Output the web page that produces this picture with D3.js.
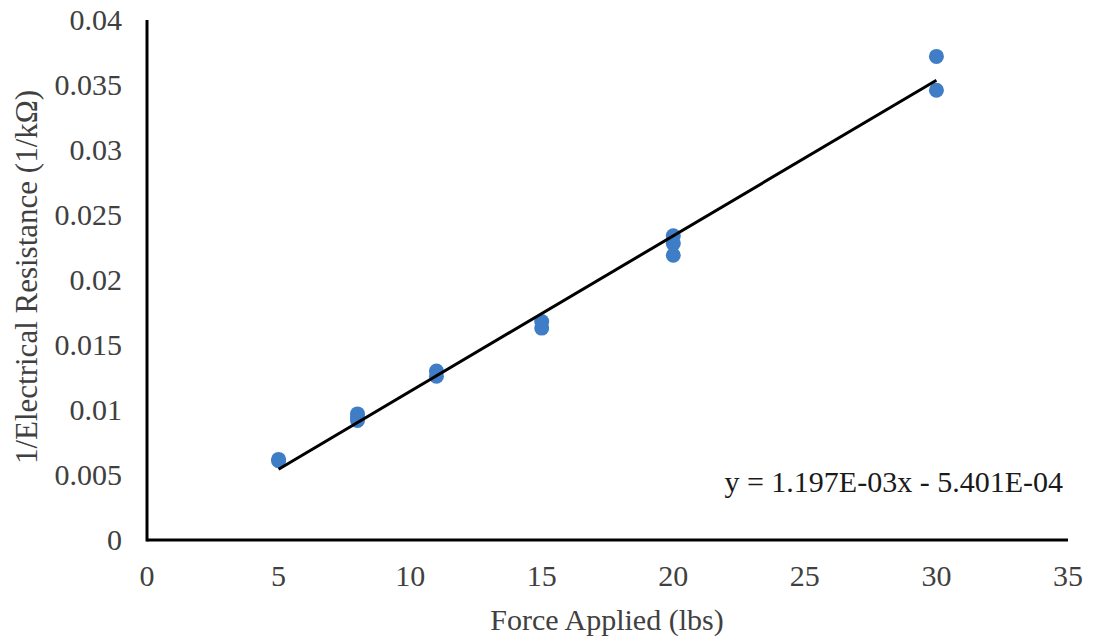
<!DOCTYPE html>
<html><head><meta charset="utf-8">
<script src="https://cdn.jsdelivr.net/npm/d3@7"></script>
<style>body{margin:0;background:#fff}</style>
</head><body><svg id="c" width="1093" height="640"></svg>
<script>
const forceX = [5,5, 8,8,8, 11,11, 15,15, 20,20,20, 30,30];
const invR   = [0.0062,0.0061, 0.0097,0.0094,0.0092, 0.0130,0.0126, 0.0168,0.0163, 0.0234,0.0228,0.0219, 0.0372,0.0346];
const xTicks = [0,5,10,15,20,25,30,35];
const yTicks = [0,0.005,0.01,0.015,0.02,0.025,0.03,0.035,0.04];
const yTickLabels = ["0","0.005","0.01","0.015","0.02","0.025","0.03","0.035","0.04"];
const slope = 1.197e-3, intercept = -5.401e-4;
const fitRange = [5,30];
const equation = "y = 1.197E-03x - 5.401E-04";

const svg = d3.select("#c");
const x = d3.scaleLinear().domain([0,35]).range([147,1068]);
const y = d3.scaleLinear().domain([0,0.04]).range([540,20]);
const T = (sel, s=30) => sel.style("font-family", '"Times New Roman"').attr("font-size", s);

// tick labels
svg.append("g").selectAll("text").data(xTicks).join("text")
  .attr("x",d=>x(d)).attr("y",586).attr("text-anchor","middle")
  .call(T).attr("fill","#404040").text(d=>d);
svg.append("g").selectAll("text").data(yTicks).join("text")
  .attr("x",122).attr("y",d=>y(d)+10).attr("text-anchor","end")
  .call(T).attr("fill","#404040").text((d,i)=>yTickLabels[i]);

// axes lines
svg.append("line").attr("x1",x(0)).attr("x2",x(35)).attr("y1",y(0)).attr("y2",y(0)).attr("stroke","#000").attr("stroke-width",3);
svg.append("line").attr("x1",x(0)).attr("x2",x(0)).attr("y1",y(0)+1.5).attr("y2",y(0.04)).attr("stroke","#000").attr("stroke-width",3);

// points
svg.append("g").selectAll("circle").data(forceX).join("circle")
  .attr("cx",d=>x(d)).attr("cy",(d,i)=>y(invR[i])).attr("r",7.5).attr("fill","#3f7dc6");

// trend line
svg.append("line").attr("x1",x(fitRange[0])).attr("y1",y(slope*fitRange[0]+intercept))
  .attr("x2",x(fitRange[1])).attr("y2",y(slope*fitRange[1]+intercept))
  .attr("stroke","#000").attr("stroke-width",3);

// equation
svg.append("text").attr("x",1063).attr("y",492).attr("text-anchor","end")
  .call(T).attr("fill","#1a1a1a").text(equation);

// axis titles
svg.append("text").attr("x",607).attr("y",630).attr("text-anchor","middle")
  .call(T).attr("fill","#404040").text("Force Applied (lbs)");
svg.append("text").attr("transform","translate(37,277) rotate(-90)").attr("text-anchor","middle")
  .call(T,31).attr("fill","#404040").text("1/Electrical Resistance (1/kΩ)");
</script></body></html>
